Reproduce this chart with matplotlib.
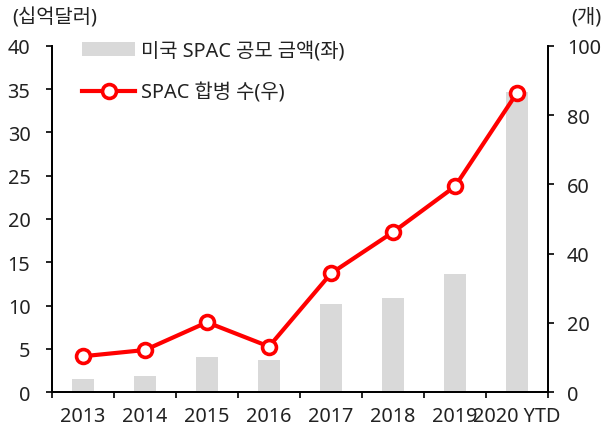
import matplotlib
matplotlib.use("Agg")
import matplotlib.pyplot as plt
import numpy as np

plt.rcParams['font.family'] = ['Noto Sans', 'Noto Sans CJK KR', 'DejaVu Sans']

categories = ["2013", "2014", "2015", "2016", "2017", "2018", "2019", "2020 YTD"]
ipo_amount = [1.5, 1.9, 4.1, 3.7, 10.2, 10.9, 13.6, 34.6]
merger_count = [10.4, 12.2, 20.2, 13.2, 34.3, 46.2, 59.4, 86.4]
bar_label = "미국 SPAC 공모 금액(좌)"
line_label = "SPAC 합병 수(우)"

fs = 14.3
tc = '#222222'
fig = plt.figure(figsize=(6.01, 4.31), dpi=100)
ax1 = fig.add_axes([52/601, 1-393.3/431, (548-52)/601, (393.3-46.7)/431])
ax2 = ax1.twinx()

x = np.arange(len(categories))
bars = ax1.bar(x, ipo_amount, width=0.36, color="#D9D9D9", label=bar_label, zorder=1)
line, = ax2.plot(x, merger_count, color="#FF0000", lw=3, marker="o", markersize=10,
                 markerfacecolor="white", markeredgecolor="#FF0000", markeredgewidth=2.6,
                 label=line_label, zorder=3)

ax1.set_xlim(-0.5, len(categories) - 0.5)
ax1.set_ylim(0, 40)
ax2.set_ylim(0, 100)
ax1.set_yticks(np.arange(0, 41, 5))
ax2.set_yticks(np.arange(0, 101, 20))

ax1.set_xticks(np.arange(-0.5, len(categories), 1.0))
ax1.set_xticklabels([])
ax1.set_xticks(x, minor=True)
ax1.set_xticklabels(categories, minor=True)
ax1.tick_params(axis='x', which='major', direction='out', length=4.5, width=1.2, color='black')
ax1.tick_params(axis='x', which='minor', length=0, pad=10, labelsize=fs, labelcolor=tc)
ax1.tick_params(axis='y', direction='out', length=4.5, width=1.2, labelsize=fs, labelcolor=tc, pad=11)
ax2.tick_params(axis='y', direction='out', length=4.5, width=1.2, labelsize=fs, labelcolor=tc, pad=9)

for ax in (ax1, ax2):
    ax.spines['top'].set_visible(False)
    for s in ('left', 'right', 'bottom'):
        ax.spines[s].set_linewidth(1.3)
        ax.spines[s].set_color('black')

fig.text(12/601, 1-18/431, "(십억달러)", fontsize=fs, color=tc, va='center', ha='left')
fig.text(571/601, 1-18/431, "(개)", fontsize=fs, color=tc, va='center', ha='left')

leg = ax2.legend([bars, line], [bar_label, line_label], loc='upper left',
                 bbox_to_anchor=(0.025, 1.066), frameon=False, fontsize=fs,
                 handlelength=2.65, handletextpad=0.3, labelspacing=1.1)
for t in leg.get_texts():
    t.set_color(tc)

fig.savefig("out.png", dpi=100)
